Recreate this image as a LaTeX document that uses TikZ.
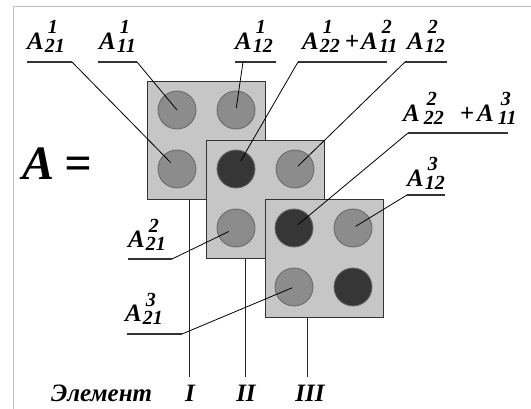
\documentclass[tikz,border=0pt]{standalone}
\usepackage{fontspec}
\setmainfont{Liberation Serif}
\definecolor{boxgray}{HTML}{C6C6C6}
\definecolor{midgray}{HTML}{8C8C8C}
\definecolor{dkgray}{HTML}{363636}
\definecolor{framegray}{HTML}{C0C0C0}
\newcommand\scr{\fontsize{20}{20}\selectfont}
\newcommand\ALk[3]{A\kern#1\rlap{\kern3pt\raisebox{16pt}{\scr #2}}\raisebox{-3pt}{\scr #3}}
\newcommand\AL[2]{\ALk{1pt}{#1}{#2}}
\begin{document}
\begin{tikzpicture}[x=1pt,y=-1pt,
  box/.style={draw=black!80,line width=1.2pt,fill=boxgray,minimum width=118pt,minimum height=118pt,anchor=north west,inner sep=0pt},
  dot/.style={circle,draw=black!60,line width=0.8pt,minimum size=38pt,inner sep=0pt,fill=midgray},
  dk/.style={dot,fill=dkgray},
  lead/.style={line width=0.8pt,black},
  uline/.style={line width=1.3pt,black!80},
  vline/.style={line width=1pt,black!85},
  lab/.style={anchor=base west,inner sep=0pt,font=\bfseries\itshape\fontsize{25}{25}\selectfont},
  big/.style={anchor=base west,inner sep=0pt,font=\bfseries\itshape\fontsize{48}{48}\selectfont},
  bot/.style={anchor=base,inner sep=0pt,font=\bfseries\itshape\fontsize{25}{25}\selectfont}]
\useasboundingbox (0,0) rectangle (531,409);
\draw[framegray,line width=1pt] (13,409) -- (13,7) -- (531,7);

% element I
\node[box] (b1) at (147,81) {};
\node[dot] (c1a) at (177,110) {};
\node[dot] (c1b) at (236,110) {};
\node[dot] (c1c) at (177,169) {};
\node[dot] (c1d) at (236,169) {};
% element II
\node[box] (b2) at (206,140) {};
\node[dk]  (c2a) at (236,169) {};
\node[dot] (c2b) at (295,169) {};
\node[dot] (c2c) at (236,228) {};
\node[dot] (c2d) at (295,228) {};
% element III
\node[box] (b3) at (265,199) {};
\node[dk]  (c3a) at (294,228) {};
\node[dot] (c3b) at (353,228) {};
\node[dot] (c3c) at (294,287) {};
\node[dk]  (c3d) at (353,287) {};

% vertical lines
\coordinate (e1) at (189,377);
\coordinate (e2) at (245,377);
\coordinate (e3) at (307,377);
\draw[vline] (b1.south -| e1) -- (e1);
\draw[vline] (b2.south -| e2) -- (e2);
\draw[vline] (b3.south -| e3) -- (e3);

% A =
\node[big] (Aeq) at (22,180) {A\kern10pt =};

% labels
\node[lab] (l1) at (27,50) {\AL{1}{21}};
\coordinate (u1s) at (27,62); \coordinate (u1e) at (72,62);
\draw[uline] (u1s) -- (u1e);
\draw[lead,shorten >=9pt] (u1e) -- (c1c.center);

\node[lab] (l2) at (99,50) {\AL{1}{11}};
\coordinate (u2s) at (98,62); \coordinate (u2e) at (137,62);
\draw[uline] (u2s) -- (u2e);
\draw[lead] (u2e) -- (c1a.center);

\node[lab] (l3) at (235,50) {\AL{1}{12}};
\coordinate (u3s) at (235,62); \coordinate (u3e) at (276,62); \coordinate (u3m) at (243,62);
\draw[uline] (u3s) -- (u3e);
\draw[lead,shorten >=2pt] (u3m) -- (c1b.center);

\node[lab] (l4) at (302,50) {\AL{1}{22}\kern5pt+\kern2pt\AL{2}{11}};
\coordinate (u4s) at (298,62); \coordinate (u4e) at (387,62);
\draw[uline] (u4s) -- (u4e);
\draw[lead,shorten >=9pt] (u4s) -- (c2a.center);

\node[lab] (l5) at (407,50) {\AL{2}{12}};
\coordinate (u5s) at (405,62); \coordinate (u5e) at (447,62);
\draw[uline] (u5s) -- (u5e);
\draw[lead,shorten >=4pt] (u5s) -- (c2b.center);

\node[lab] (l6) at (403,122) {\ALk{4pt}{2}{22}\kern16pt+\kern3pt\ALk{4pt}{3}{11}};
\coordinate (u6s) at (408,133); \coordinate (u6e) at (508,133);
\draw[uline] (u6s) -- (u6e);
\draw[lead,shorten >=5pt] (u6s) -- (c3a.center);

\node[lab] (l7) at (407,187) {\AL{3}{12}};
\coordinate (u7s) at (407,195); \coordinate (u7e) at (445,195);
\draw[uline] (u7s) -- (u7e);
\draw[lead,shorten >=3pt] (u7s) -- (c3b.center);

\node[lab] (l8) at (128,248) {\AL{2}{21}};
\coordinate (u8s) at (128,259); \coordinate (u8e) at (172,259);
\draw[uline] (u8s) -- (u8e);
\draw[lead,shorten >=8pt] (u8e) -- (c2c.center);

\node[lab] (l9) at (125,322) {\AL{3}{21}};
\coordinate (u9s) at (127,334); \coordinate (u9e) at (182,334);
\draw[uline] (u9s) -- (u9e);
\draw[lead,shorten >=2pt] (u9e) -- (c3c.center);

% bottom captions
\node[bot,anchor=base west] (el) at (51,402) {Элемент};
\node[bot] (n1) at (190,402) {I};
\node[bot] (n2) at (246,402) {II};
\node[bot] (n3) at (310,402) {III};
\end{tikzpicture}
\end{document}
